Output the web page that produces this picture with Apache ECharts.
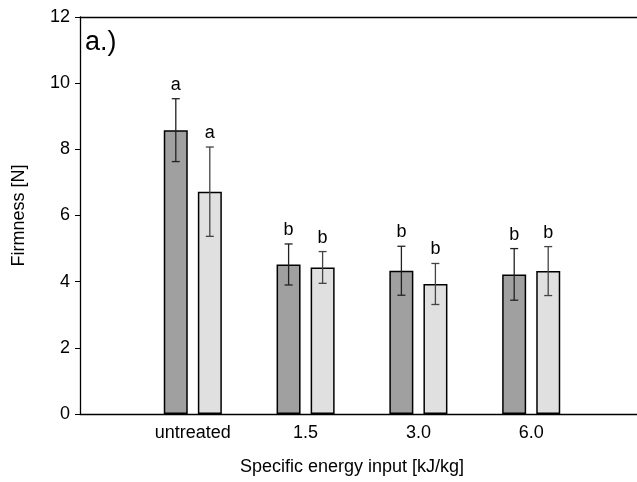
<!DOCTYPE html>
<html>
<head>
<meta charset="utf-8">
<script src="https://cdn.jsdelivr.net/npm/echarts@6/dist/echarts.min.js"></script>
<style>
  html, body { margin: 0; padding: 0; background: #fff; }
  #chart { width: 637px; height: 482px; }
</style>
</head>
<body>
<div id="chart"></div>
<script>
// categories (empty slots pad the axis like the original plot)
const categories = ['', 'untreated', '1.5', '3.0', '6.0', ''];

// mean firmness [N] per group, two series (dark / light bars)
const darkMean = [null, 8.58, 4.52, 4.33, 4.22, null];
const lightMean = [null, 6.72, 4.43, 3.93, 4.32, null];

// standard deviations
const darkErr = [null, 0.95, 0.62, 0.74, 0.78, null];
const lightErr = [null, 1.35, 0.48, 0.62, 0.74, null];

// significance letters
const darkLetters = ['', 'a', 'b', 'b', 'b', ''];
const lightLetters = ['', 'a', 'b', 'b', 'b', ''];

const yTicks = [0, 2, 4, 6, 8, 10, 12];

const FONT = 'Liberation Sans, Arial, sans-serif';
const BAR_W = 24;
const OFFSET = 17; // half distance between paired bar centres

function errData(mean, err, letters) {
  const out = [];
  mean.forEach((m, i) => {
    if (m != null) out.push([i, m, err[i], letters[i]]);
  });
  return out;
}

function errSeries(mean, err, letters, dx, color) {
  return {
    type: 'custom',
    xAxisIndex: 0,
    z: 5,
    data: errData(mean, err, letters),
    encode: { x: 0, y: 1 },
    renderItem: function (params, api) {
      const i = api.value(0);
      const m = api.value(1);
      const e = api.value(2);
      const hi = api.coord([i, m + e]);
      const lo = api.coord([i, m - e]);
      const x = hi[0] + dx;
      const cap = 4;
      const st = { stroke: color, lineWidth: 1.3 };
      return {
        type: 'group',
        children: [
          { type: 'line', shape: { x1: x, y1: hi[1], x2: x, y2: lo[1] }, style: st },
          { type: 'line', shape: { x1: x - cap, y1: hi[1], x2: x + cap, y2: hi[1] }, style: st },
          { type: 'line', shape: { x1: x - cap, y1: lo[1], x2: x + cap, y2: lo[1] }, style: st },
          {
            type: 'text',
            style: {
              x: x, y: hi[1] - 5,
              text: letters[i],
              fill: '#000',
              font: '18px ' + FONT,
              align: 'center',
              verticalAlign: 'bottom'
            }
          }
        ]
      };
    }
  };
}

const chart = echarts.init(document.getElementById('chart'));

chart.setOption({
  animation: false,
  grid: { left: 80, width: 564, top: 17, bottom: 68, outerBoundsMode: 'none', containLabel: false },
  graphic: [{
    type: 'text',
    left: 85, top: 29,
    style: { text: 'a.)', font: '27px ' + FONT, fill: '#000' }
  }],
  xAxis: [{
    type: 'category',
    data: categories,
    boundaryGap: false,
    name: 'Specific energy input [kJ/kg]',
    nameLocation: 'middle',
    nameGap: 44,
    nameTextStyle: { fontFamily: FONT, fontSize: 18, color: '#000', padding: [0, 20, 0, 0] },
    axisLine: { lineStyle: { color: '#000', width: 1.3 } },
    axisTick: { show: false },
    axisLabel: { fontFamily: FONT, fontSize: 18, color: '#000', margin: 10 },
    splitLine: { show: false }
  }, {
    type: 'category',
    data: categories,
    boundaryGap: false,
    position: 'top',
    axisLine: { lineStyle: { color: '#000', width: 1.3 } },
    axisTick: { show: false },
    axisLabel: { show: false },
    splitLine: { show: false }
  }],
  yAxis: {
    type: 'value',
    min: yTicks[0],
    max: yTicks[yTicks.length - 1],
    interval: 2,
    name: 'Firmness [N]',
    nameLocation: 'middle',
    nameGap: 52,
    nameTextStyle: { fontFamily: FONT, fontSize: 18, color: '#000' },
    axisLine: { show: true, lineStyle: { color: '#000', width: 1.3 } },
    axisTick: { show: true, inside: false, length: 5, lineStyle: { color: '#000' } },
    axisLabel: { fontFamily: FONT, fontSize: 18, color: '#000', margin: 10 },
    splitLine: { show: false }
  },
  series: [
    {
      type: 'bar',
      data: darkMean,
      barWidth: BAR_W,
      barGap: '42%',
      itemStyle: { color: '#a0a0a0', borderColor: '#000', borderWidth: 1.5 }
    },
    {
      type: 'bar',
      data: lightMean,
      barWidth: BAR_W,
      itemStyle: { color: '#e0e0e0', borderColor: '#000', borderWidth: 1.5 }
    },
    errSeries(darkMean, darkErr, darkLetters, -OFFSET, '#222'),
    errSeries(lightMean, lightErr, lightLetters, OFFSET, '#444')
  ]
});
</script>
</body>
</html>
